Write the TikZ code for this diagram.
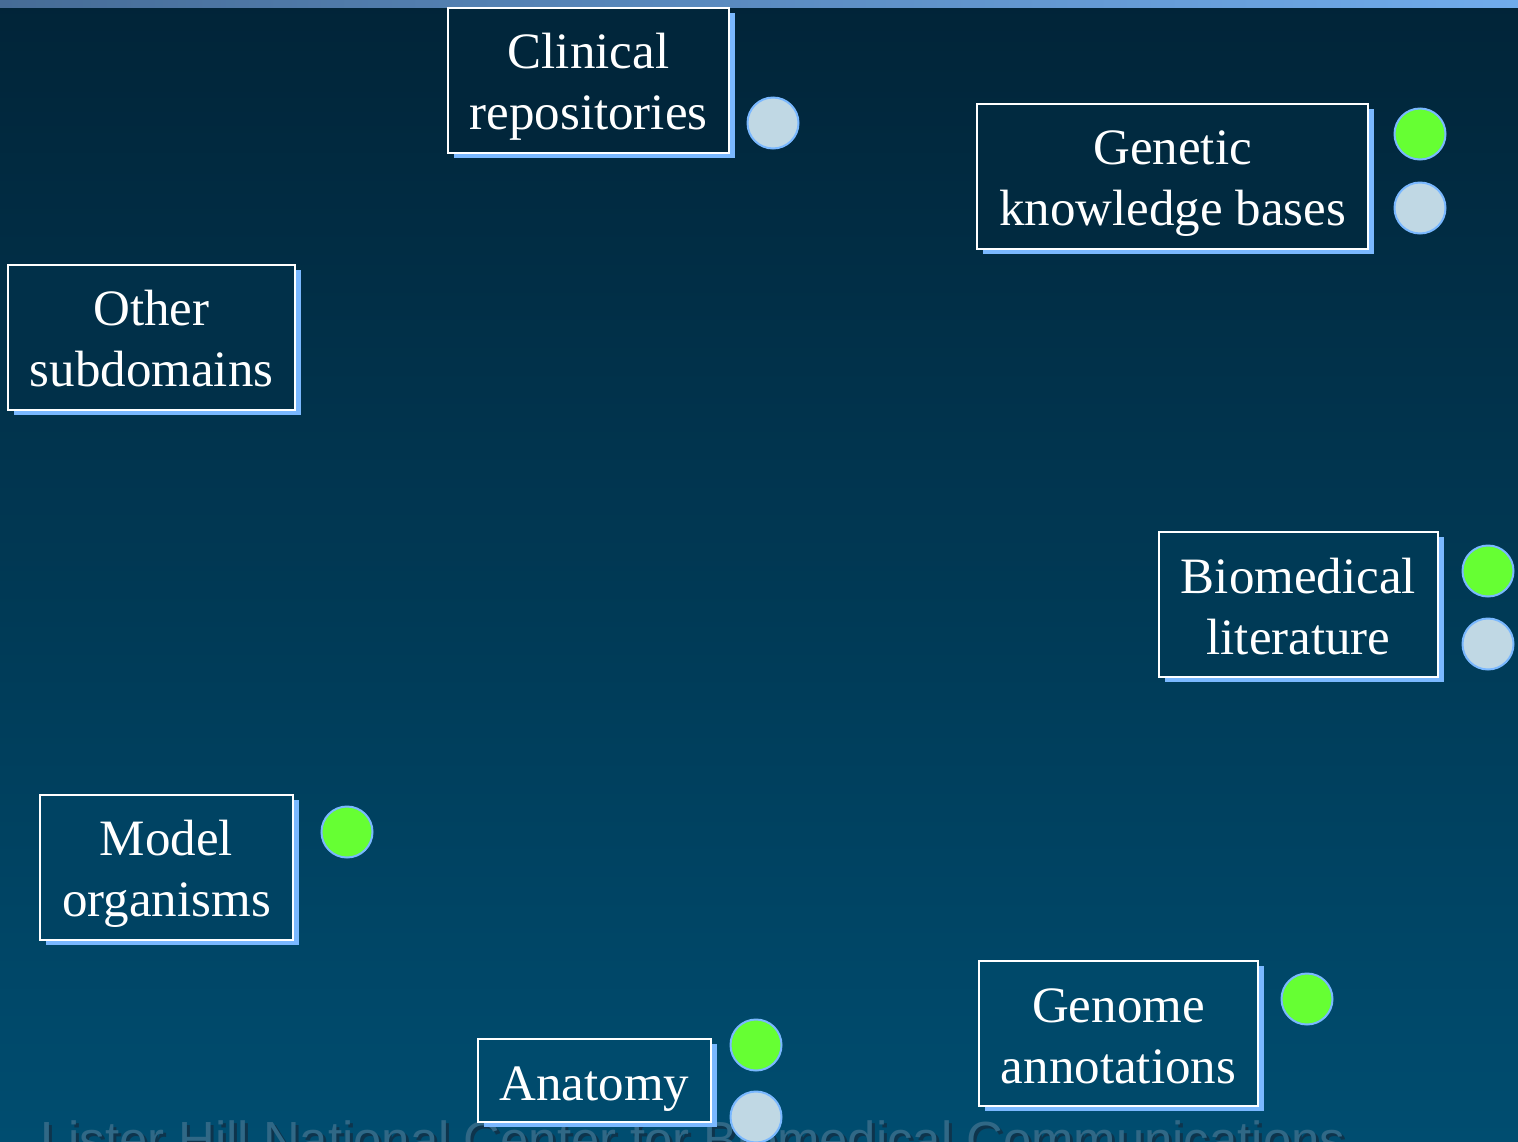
\documentclass[tikz,border=0pt]{standalone}
\usepackage{fontspec}
\setmainfont{Liberation Serif}
\newfontfamily\footerfont{Liberation Sans}
\usetikzlibrary{shadows}
\definecolor{bgtop}{RGB}{1,36,56}
\definecolor{bgbot}{RGB}{0,77,112}
\definecolor{shadowblue}{RGB}{122,184,255}
\definecolor{dotgreen}{RGB}{102,255,51}
\definecolor{dotgray}{RGB}{192,216,228}
\definecolor{barleft}{RGB}{70,108,150}
\definecolor{barright}{RGB}{112,172,236}
\definecolor{footfill}{RGB}{48,104,134}
\definecolor{footshade}{RGB}{14,52,76}
\tikzset{
  labelbox/.style={draw=white, line width=2.2pt, inner sep=0pt,
    drop shadow={shadow xshift=6pt, shadow yshift=-5pt, fill=shadowblue, opacity=1}},
  labeltext/.style={align=center, text=white, inner sep=0pt,
    font=\fontsize{51}{61}\selectfont, yshift=-6pt},
  dot/.style={circle, minimum size=51pt, inner sep=0pt, draw=shadowblue, line width=2pt},
  greendot/.style={dot, fill=dotgreen},
  graydot/.style={dot, fill=dotgray}
}
\begin{document}
\begin{tikzpicture}[x=1pt,y=-1pt]
\useasboundingbox (0,0) rectangle (1518,1141);
\begin{scope}
\clip (0,0) rectangle (1518,1141);
\shade[top color=bgtop, bottom color=bgbot] (0,0) rectangle (1518,1141);
\shade[left color=barleft, right color=barright] (0,0) rectangle (1518,7);
% footer text
\node[anchor=south west, inner sep=0pt, text=footshade, font=\footerfont] (footshadow) at (43,1161)
  {\resizebox{1305pt}{!}{Lister Hill National Center for Biomedical Communications}};
\node[anchor=south west, inner sep=0pt, text=footfill, font=\footerfont] (footer) at (40,1158)
  {\resizebox{1305pt}{!}{Lister Hill National Center for Biomedical Communications}};
% boxes
\node[labelbox, fill=bgbot!6!bgtop, minimum width=281pt, minimum height=145pt,
  label={[labeltext]center:Clinical\\repositories}] (clin) at (588.5,80.5) {};
\node[labelbox, fill=bgbot!15!bgtop, minimum width=391pt, minimum height=145pt,
  label={[labeltext, yshift=-1pt]center:Genetic\\knowledge bases}] (gen) at (1172.5,176.5) {};
\node[labelbox, fill=bgbot!30!bgtop, minimum width=287pt, minimum height=145pt,
  label={[labeltext, yshift=5pt]center:Other\\subdomains}] (oth) at (151.5,337.5) {};
\node[labelbox, fill=bgbot!53!bgtop, minimum width=279pt, minimum height=145pt,
  label={[labeltext, yshift=4pt]center:Biomedical\\literature}] (bio) at (1298.5,604.5) {};
\node[labelbox, fill=bgbot!76!bgtop, minimum width=253pt, minimum height=145pt,
  label={[labeltext]center:Model\\organisms}] (mod) at (166.5,867.5) {};
\node[labelbox, fill=bgbot!90!bgtop, minimum width=279pt, minimum height=145pt,
  label={[labeltext, yshift=3pt]center:Genome\\annotations}] (genome) at (1118.5,1033.5) {};
\node[labelbox, fill=bgbot!95!bgtop, minimum width=233pt, minimum height=83pt,
  label={[labeltext, yshift=-3pt]center:Anatomy}] (anat) at (594.5,1080.5) {};
% dots
\node[graydot] (clinA) at (773,123) {};
\node[greendot] (genA) at (1420,134) {};
\node[graydot] (genB) at (1420,208) {};
\node[greendot] (bioA) at (1488,571) {};
\node[graydot] (bioB) at (1488,644) {};
\node[greendot] (modA) at (347,832) {};
\node[greendot] (genomeA) at (1307,999) {};
\node[greendot] (anatA) at (756,1045) {};
\node[graydot] (anatB) at (756,1117) {};
\end{scope}
\end{tikzpicture}
\end{document}
